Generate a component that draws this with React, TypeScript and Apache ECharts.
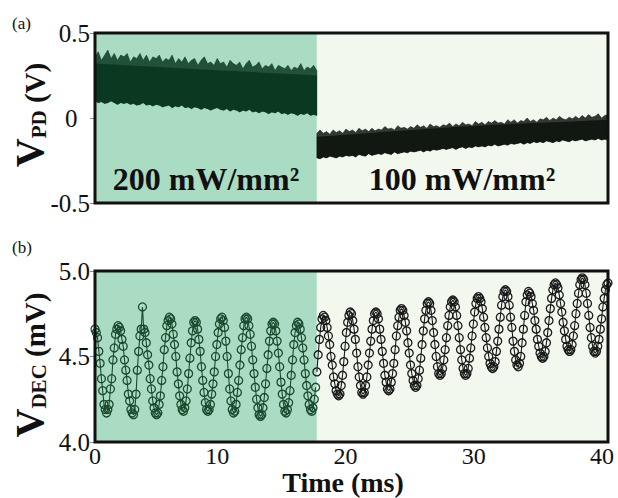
import React, { useEffect, useRef } from "react";
import * as echarts from "echarts";

// ---------- shared ----------
const SPLIT_MS = 17.3;
const X_MIN = 0;
const X_MAX = 40;
const shadeColors = ["#aadcc4", "#f2f8ed"];
const annotations = ["200 mW/mm²", "100 mW/mm²"];

// ---------- panel (a): photodiode voltage envelope (V) ----------
const pdYMin = -0.5;
const pdYMax = 0.5;
// spiky outer edge of the noise band
const pdLeftUpper = [
  0.36, 0.39, 0.34, 0.37, 0.40, 0.35, 0.38, 0.34, 0.37, 0.36,
  0.38, 0.33, 0.36, 0.35, 0.38, 0.34, 0.37, 0.33, 0.36, 0.35,
  0.37, 0.33, 0.35, 0.34, 0.37, 0.32, 0.35, 0.33, 0.36, 0.32,
  0.34, 0.35, 0.31, 0.34, 0.36, 0.32, 0.33, 0.31, 0.35, 0.32,
  0.33, 0.30, 0.34, 0.32, 0.31, 0.33, 0.29, 0.32, 0.34, 0.30,
  0.31, 0.33, 0.29, 0.31, 0.30, 0.32, 0.28, 0.31, 0.30, 0.29,
  0.31, 0.28, 0.30, 0.29, 0.32, 0.28, 0.30, 0.29, 0.31, 0.28,
];
// top of the dense core of the band
const pdLeftCoreUpper = [0.32, 0.31, 0.30, 0.29, 0.28, 0.27, 0.26, 0.25];
const pdLeftLower = [
  0.10, 0.09, 0.095, 0.085, 0.09, 0.10, 0.09, 0.08, 0.09, 0.085,
  0.09, 0.08, 0.085, 0.075, 0.08, 0.09, 0.075, 0.08, 0.07, 0.08,
  0.075, 0.065, 0.07, 0.075, 0.06, 0.07, 0.065, 0.075, 0.06, 0.065,
  0.055, 0.065, 0.06, 0.05, 0.06, 0.055, 0.045, 0.055, 0.06, 0.05,
  0.045, 0.055, 0.04, 0.05, 0.045, 0.035, 0.045, 0.04, 0.05, 0.035,
  0.04, 0.03, 0.04, 0.035, 0.025, 0.035, 0.03, 0.04, 0.025, 0.03,
  0.02, 0.03, 0.025, 0.015, 0.025, 0.02, 0.03, 0.015, 0.02, 0.015,
];
const pdRightUpper = [
  -0.09, -0.07, -0.09, -0.08, -0.095, -0.07, -0.085, -0.075, -0.09, -0.065,
  -0.08, -0.07, -0.085, -0.06, -0.075, -0.065, -0.08, -0.06, -0.075, -0.065,
  -0.07, -0.05, -0.065, -0.06, -0.07, -0.045, -0.06, -0.055, -0.065, -0.05,
  -0.06, -0.04, -0.055, -0.045, -0.06, -0.035, -0.05, -0.045, -0.055, -0.04,
  -0.045, -0.03, -0.05, -0.035, -0.045, -0.025, -0.04, -0.035, -0.045, -0.02,
  -0.035, -0.025, -0.04, -0.02, -0.03, -0.015, -0.03, -0.025, -0.035, -0.01,
  -0.025, -0.01, -0.03, -0.015, -0.02, 0.0, -0.02, -0.01, -0.025, -0.005,
  -0.01, 0.005, -0.015, 0.0, -0.01, 0.01, -0.005, -0.01, 0.005, -0.005,
  0.01, -0.005, 0.015, 0.0, 0.02, 0.005, 0.01, 0.025, 0.0, 0.015, 0.02,
];
const pdRightCoreUpper = [-0.11, -0.095, -0.08, -0.065, -0.05, -0.04, -0.03, -0.02, -0.01];
const pdRightLower = [
  -0.235, -0.24, -0.23, -0.235, -0.225, -0.23, -0.235, -0.225, -0.23, -0.22,
  -0.225, -0.22, -0.23, -0.215, -0.22, -0.225, -0.21, -0.22, -0.215, -0.21,
  -0.215, -0.205, -0.21, -0.215, -0.2, -0.21, -0.205, -0.2, -0.205, -0.195,
  -0.2, -0.195, -0.19, -0.2, -0.19, -0.195, -0.185, -0.19, -0.185, -0.18,
  -0.185, -0.18, -0.175, -0.185, -0.175, -0.17, -0.18, -0.17, -0.175, -0.165,
  -0.17, -0.165, -0.17, -0.16, -0.165, -0.155, -0.165, -0.16, -0.155, -0.16,
  -0.15, -0.155, -0.15, -0.145, -0.155, -0.145, -0.15, -0.14, -0.145, -0.14,
  -0.145, -0.135, -0.14, -0.145, -0.135, -0.14, -0.13, -0.135, -0.14, -0.13,
  -0.135, -0.13, -0.125, -0.135, -0.13, -0.125, -0.13, -0.12, -0.13, -0.125, -0.13,
];

// ---------- panel (b): demodulated signal (mV), sampled every 0.1 ms ----------
const decYMin = 4.0;
const decYMax = 5.0;
const decStepMs = 0.1;
const decLeftStartMs = 0.0;
const decLeft = [
  4.66, 4.64, 4.61, 4.53, 4.46, 4.37, 4.30, 4.22, 4.19, 4.17,
  4.19, 4.22, 4.31, 4.37, 4.48, 4.55, 4.63, 4.66, 4.68,
  4.67, 4.65, 4.60, 4.56, 4.48, 4.42, 4.36, 4.28, 4.24, 4.19, 4.17, 4.16,
  4.19, 4.28, 4.42, 4.53, 4.62, 4.66, 4.79,
  4.66, 4.64, 4.58, 4.51, 4.45, 4.37, 4.31, 4.24, 4.20, 4.17, 4.16,
  4.17, 4.22, 4.27, 4.36, 4.44, 4.54, 4.61, 4.68, 4.71, 4.73,
  4.72, 4.69, 4.63, 4.57, 4.50, 4.41, 4.34, 4.27, 4.22, 4.19, 4.18,
  4.20, 4.24, 4.31, 4.40, 4.49, 4.58, 4.65, 4.70, 4.71,
  4.70, 4.66, 4.60, 4.53, 4.44, 4.36, 4.29, 4.23, 4.19, 4.18,
  4.19, 4.22, 4.28, 4.34, 4.41, 4.50, 4.57, 4.64, 4.69, 4.72, 4.73,
  4.71, 4.67, 4.59, 4.50, 4.40, 4.31, 4.24, 4.19, 4.17,
  4.18, 4.22, 4.29, 4.36, 4.45, 4.54, 4.61, 4.68, 4.72, 4.73,
  4.72, 4.68, 4.63, 4.56, 4.48, 4.40, 4.32, 4.25, 4.20, 4.16, 4.15,
  4.16, 4.20, 4.26, 4.34, 4.43, 4.51, 4.59, 4.65, 4.69, 4.70,
  4.69, 4.65, 4.59, 4.52, 4.44, 4.35, 4.28, 4.22, 4.18, 4.17,
  4.19, 4.23, 4.30, 4.39, 4.48, 4.57, 4.64, 4.68, 4.70,
  4.69, 4.66, 4.61, 4.55, 4.48, 4.40, 4.33, 4.27, 4.22, 4.19, 4.18,
  4.20, 4.25, 4.32,
];
const decRightStartMs = 17.3;
const decRight = [
  4.41, 4.51, 4.60, 4.67, 4.72, 4.74,
  4.73, 4.71, 4.67, 4.62, 4.57, 4.50, 4.45, 4.38, 4.34, 4.30, 4.28, 4.27,
  4.28, 4.33, 4.39, 4.47, 4.56, 4.64, 4.70, 4.74, 4.76,
  4.75, 4.71, 4.66, 4.60, 4.52, 4.44, 4.38, 4.33, 4.29, 4.28,
  4.29, 4.33, 4.38, 4.45, 4.52, 4.59, 4.66, 4.71, 4.75, 4.76,
  4.75, 4.72, 4.66, 4.60, 4.53, 4.46, 4.39, 4.35, 4.31, 4.30,
  4.31, 4.35, 4.40, 4.46, 4.54, 4.62, 4.68, 4.73, 4.77, 4.78,
  4.77, 4.74, 4.70, 4.65, 4.58, 4.52, 4.45, 4.40, 4.36, 4.33, 4.32,
  4.33, 4.37, 4.42, 4.49, 4.57, 4.65, 4.72, 4.77, 4.81, 4.82,
  4.81, 4.77, 4.71, 4.64, 4.57, 4.50, 4.44, 4.40, 4.39,
  4.40, 4.43, 4.48, 4.54, 4.61, 4.68, 4.74, 4.79, 4.82, 4.83,
  4.82, 4.79, 4.74, 4.68, 4.61, 4.54, 4.48, 4.43, 4.40, 4.39,
  4.40, 4.43, 4.49, 4.55, 4.62, 4.69, 4.76, 4.81, 4.84, 4.85,
  4.84, 4.82, 4.78, 4.73, 4.67, 4.61, 4.55, 4.50, 4.46, 4.44, 4.43,
  4.44, 4.47, 4.53, 4.59, 4.66, 4.73, 4.80, 4.85, 4.88, 4.89,
  4.88, 4.85, 4.80, 4.73, 4.67, 4.59, 4.53, 4.48, 4.45, 4.44,
  4.46, 4.50, 4.58, 4.66, 4.74, 4.82, 4.86, 4.88,
  4.87, 4.85, 4.81, 4.77, 4.71, 4.66, 4.60, 4.56, 4.52, 4.50, 4.49,
  4.50, 4.53, 4.58, 4.64, 4.71, 4.78, 4.84, 4.89, 4.92, 4.93,
  4.92, 4.90, 4.86, 4.81, 4.76, 4.70, 4.65, 4.60, 4.56, 4.54, 4.53,
  4.54, 4.57, 4.62, 4.68, 4.75, 4.81, 4.87, 4.92, 4.95, 4.96,
  4.95, 4.92, 4.87, 4.81, 4.74, 4.67, 4.61, 4.56, 4.53, 4.52,
  4.53, 4.56, 4.60, 4.66, 4.72, 4.79, 4.84, 4.89, 4.92, 4.93,
];

const xTickStep = 10;

// ---------- styling ----------
const SERIF = "'Liberation Serif', 'Times New Roman', serif";
const INK = "#111111";
const leftBandColor = "#0b3821";
const rightBandColor = "#111811";
const leftDecColor = "#1b4a2e";
const rightDecColor = "#1a1a1a";

const GRID_A = { left: 95, top: 33, width: 513, height: 170 };
const GRID_B = { left: 95, top: 271, width: 513, height: 171 };

const evenTimes = (n: number, a: number, b: number) =>
  Array.from({ length: n }, (_, i) => a + ((b - a) * i) / (n - 1));

function bandSeries(
  upper: number[], lower: number[], t0: number, t1: number,
  color: string, opacity: number, z: number, strokeWidth: number,
) {
  const tu = evenTimes(upper.length, t0, t1);
  const tl = evenTimes(lower.length, t0, t1);
  return {
    type: "custom",
    xAxisIndex: 0,
    yAxisIndex: 0,
    z,
    silent: true,
    data: upper.map((v, i) => [tu[i], v]),
    renderItem: (params: any, api: any) => {
      if (params.dataIndex !== 0) return null;
      const pts: number[][] = [];
      for (let i = 0; i < upper.length; i++) pts.push(api.coord([tu[i], upper[i]]));
      for (let i = lower.length - 1; i >= 0; i--) pts.push(api.coord([tl[i], lower[i]]));
      return {
        type: "polygon",
        shape: { points: pts },
        style: { fill: color, stroke: strokeWidth > 0 ? color : "none", lineWidth: strokeWidth, opacity },
      };
    },
  };
}

function shadeSeries(axisIdx: number, yMin: number, yMax: number) {
  return {
    type: "custom",
    xAxisIndex: axisIdx,
    yAxisIndex: axisIdx,
    z: 1,
    silent: true,
    data: [
      [X_MIN, SPLIT_MS, 0],
      [SPLIT_MS, X_MAX, 1],
    ],
    renderItem: (params: any, api: any) => {
      const p0 = api.coord([api.value(0), yMax]);
      const p1 = api.coord([api.value(1), yMin]);
      return {
        type: "rect",
        shape: { x: p0[0], y: p0[1], width: p1[0] - p0[0], height: p1[1] - p0[1] },
        style: { fill: shadeColors[api.value(2)] },
      };
    },
  };
}

function decSeries(values: number[], start: number, color: string) {
  return {
    type: "line",
    xAxisIndex: 1,
    yAxisIndex: 1,
    z: 4,
    silent: true,
    showAllSymbol: true,
    symbol: "circle",
    symbolSize: 8,
    data: values.map((v, i) => [start + i * decStepMs, v]),
    lineStyle: { color, width: 1.1 },
    itemStyle: { color: "rgba(0,0,0,0)", borderColor: color, borderWidth: 1.3 },
  };
}

const tickStyle = { show: true, inside: true, length: 5, lineStyle: { color: "#8a8a8a", width: 1 } };
const labelBase = { fontFamily: SERIF, fontSize: 25, color: INK };
const xLabelBase = { fontFamily: SERIF, fontSize: 24, color: INK };

export default function App() {
  const ref = useRef<HTMLDivElement>(null);

  useEffect(() => {
    if (!ref.current) return;
    const chart = echarts.init(ref.current, undefined, { renderer: "svg" });

    const xCommon = (gridIndex: number) => ({
      type: "value",
      gridIndex,
      min: X_MIN,
      max: X_MAX,
      interval: xTickStep,
      axisLine: { show: false },
      splitLine: { show: false },
      axisTick: tickStyle,
    });
    const yCommon = (gridIndex: number, min: number, max: number) => ({
      type: "value",
      gridIndex,
      min,
      max,
      interval: 0.5,
      axisLine: { show: false },
      splitLine: { show: false },
      axisTick: tickStyle,
    });

    const titleRich = {
      v: { fontFamily: SERIF, fontWeight: "bold", fontSize: 40, lineHeight: 40, verticalAlign: "bottom", fill: INK },
      s: { fontFamily: SERIF, fontWeight: "bold", fontSize: 21, lineHeight: 27, verticalAlign: "bottom", fill: INK },
      u: { fontFamily: SERIF, fontWeight: "bold", fontSize: 29, lineHeight: 40, verticalAlign: "bottom", fill: INK },
    };

    chart.setOption({
      animation: false,
      backgroundColor: "#ffffff",
      grid: [
        { ...GRID_A, containLabel: false },
        { ...GRID_B, containLabel: false },
      ],
      xAxis: [
        { ...xCommon(0), position: "bottom", axisLabel: { show: false } },
        {
          ...xCommon(1),
          position: "bottom",
          axisLabel: {
            ...xLabelBase,
            margin: 2,
            formatter: (v: number) => (v === 0 ? "0" : `{p|${v}}`),
            rich: { p: { ...xLabelBase, padding: [0, 12, 0, 0] } },
          },
        },
        { ...xCommon(0), position: "top", axisLabel: { show: false } },
        { ...xCommon(1), position: "top", axisLabel: { show: false } },
      ],
      yAxis: [
        {
          ...yCommon(0, pdYMin, pdYMax),
          position: "left",
          axisLabel: { ...labelBase, margin: 5, formatter: (v: number) => (v === 0 ? "0  " : String(v)) },
        },
        {
          ...yCommon(1, decYMin, decYMax),
          position: "left",
          axisLabel: { ...labelBase, margin: 5, formatter: (v: number) => v.toFixed(1) },
        },
        { ...yCommon(0, pdYMin, pdYMax), position: "right", axisLabel: { show: false } },
        { ...yCommon(1, decYMin, decYMax), position: "right", axisLabel: { show: false } },
      ],
      series: [
        shadeSeries(0, pdYMin, pdYMax),
        shadeSeries(1, decYMin, decYMax),
        bandSeries(pdLeftUpper, pdLeftLower, X_MIN, SPLIT_MS, leftBandColor, 0.85, 3, 0.6),
        bandSeries(pdLeftCoreUpper, pdLeftLower, X_MIN, SPLIT_MS, leftBandColor, 1, 4, 0),
        bandSeries(pdRightUpper, pdRightLower, SPLIT_MS, X_MAX, rightBandColor, 0.85, 3, 0.6),
        bandSeries(pdRightCoreUpper, pdRightLower, SPLIT_MS, X_MAX, rightBandColor, 1, 4, 0),
        decSeries(decLeft, decLeftStartMs, leftDecColor),
        decSeries(decRight, decRightStartMs, rightDecColor),
      ],
      graphic: [
        {
          type: "rect",
          z: 50,
          silent: true,
          shape: { x: GRID_A.left, y: GRID_A.top, width: GRID_A.width, height: GRID_A.height },
          style: { fill: "none", stroke: INK, lineWidth: 3 },
        },
        {
          type: "rect",
          z: 50,
          silent: true,
          shape: { x: GRID_B.left, y: GRID_B.top, width: GRID_B.width, height: GRID_B.height },
          style: { fill: "none", stroke: INK, lineWidth: 3 },
        },
        {
          type: "text", z: 60, x: 12, y: 23,
          style: { text: "(a)", fontFamily: SERIF, fontSize: 17, fill: INK, align: "left", verticalAlign: "middle" },
        },
        {
          type: "text", z: 60, x: 12, y: 247,
          style: { text: "(b)", fontFamily: SERIF, fontSize: 17, fill: INK, align: "left", verticalAlign: "middle" },
        },
        {
          type: "text", z: 60, x: 206, y: 179,
          style: { text: annotations[0], fontFamily: SERIF, fontWeight: "bold", fontSize: 32, fill: INK, align: "center", verticalAlign: "middle" },
        },
        {
          type: "text", z: 60, x: 462, y: 179,
          style: { text: annotations[1], fontFamily: SERIF, fontWeight: "bold", fontSize: 32, fill: INK, align: "center", verticalAlign: "middle" },
        },
        {
          type: "text", z: 60, x: 29, y: 115, rotation: Math.PI / 2,
          style: { text: "{v|V}{s|PD}{u| (V)}", rich: titleRich, align: "center", verticalAlign: "middle" },
        },
        {
          type: "text", z: 60, x: 29, y: 365, rotation: Math.PI / 2,
          style: { text: "{v|V}{s|DEC}{u| (mV)}", rich: titleRich, align: "center", verticalAlign: "middle" },
        },
        {
          type: "text", z: 60, x: 343, y: 482,
          style: { text: "Time (ms)", fontFamily: SERIF, fontWeight: "bold", fontSize: 28, fill: INK, align: "center", verticalAlign: "middle" },
        },
      ],
    });

    return () => chart.dispose();
  }, []);

  return (
    <div
      ref={ref}
      style={{ position: "absolute", left: 0, top: 0, width: 618, height: 498 }}
    />
  );
}
